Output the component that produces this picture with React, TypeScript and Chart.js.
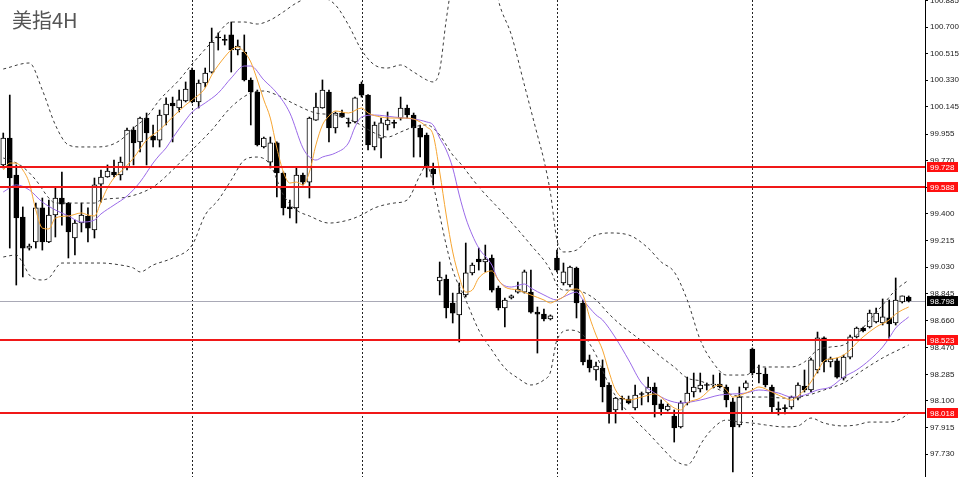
import React, { useEffect, useRef } from 'react';
import { Chart, registerables } from 'chart.js';

Chart.register(...registerables);

const TITLE = '美指4H';
const SLOTS = 142; // candle slots incl. empty right margin
const Y_MIN = 97.571;
const Y_MAX = 100.888;

const opens = [
  99.741, 99.928, 99.671, 99.379, 99.163, 99.205, 99.442, 99.205, 99.393, 99.511,
  99.476, 99.233, 99.337, 99.386, 99.289, 99.608, 99.657, 99.692, 99.671, 99.720,
  99.984, 99.901, 100.067, 99.942, 99.914, 100.088, 100.172, 100.137, 100.186, 100.401,
  100.179, 100.311, 100.387, 100.631, 100.610, 100.645, 100.540, 100.526, 100.332, 100.248,
  99.866, 99.761, 99.894, 99.685, 99.450, 99.442, 99.671, 99.622, 100.053, 100.137,
  100.248, 99.998, 100.102, 100.033, 100.040, 100.304, 100.227, 99.866, 99.928, 100.019,
  100.033, 100.067, 100.137, 100.088, 99.998, 99.949, 99.713, 98.934, 98.948, 98.781,
  98.698, 98.837, 98.990, 99.087, 99.066, 99.094, 98.885, 98.746, 98.816, 98.857,
  98.857, 98.857, 98.718, 98.704, 98.670, 99.094, 98.920, 98.906, 99.024, 98.781,
  98.385, 98.315, 98.329, 98.211, 98.037, 98.120, 98.113, 98.051, 98.148, 98.155,
  98.197, 98.079, 98.037, 97.995, 97.919, 98.086, 98.162, 98.183, 98.211, 98.211,
  98.218, 98.197, 98.093, 97.933, 98.190, 98.461, 98.294, 98.287, 98.197, 98.044,
  98.051, 98.058, 98.120, 98.204, 98.176, 98.315, 98.538, 98.371, 98.378, 98.259,
  98.405, 98.545, 98.607, 98.614, 98.649, 98.642, 98.677, 98.642, 98.788, 98.823,
];
const highs = [
  99.963, 100.227, 99.741, 99.449, 99.191, 99.476, 99.511, 99.497, 99.588, 99.692,
  99.480, 99.358, 99.476, 99.442, 99.650, 99.706, 99.741, 99.775, 99.796, 99.998,
  100.005, 100.074, 100.102, 100.019, 100.123, 100.207, 100.213, 100.262, 100.318, 100.415,
  100.332, 100.415, 100.693, 100.659, 100.645, 100.735, 100.610, 100.645, 100.346, 100.262,
  99.935, 99.935, 99.901, 99.692, 99.497, 99.720, 99.685, 100.074, 100.241, 100.332,
  100.262, 100.109, 100.123, 100.067, 100.213, 100.318, 100.230, 100.040, 100.067, 100.109,
  100.053, 100.213, 100.158, 100.102, 100.019, 99.963, 99.754, 99.066, 98.976, 98.850,
  98.920, 99.198, 99.059, 99.163, 99.184, 99.115, 98.899, 98.816, 98.837, 98.927,
  99.010, 99.010, 98.753, 98.739, 98.698, 99.149, 99.059, 99.038, 99.031, 98.802,
  98.419, 98.371, 98.385, 98.225, 98.125, 98.134, 98.134, 98.211, 98.162, 98.266,
  98.225, 98.107, 98.079, 98.037, 98.100, 98.266, 98.294, 98.294, 98.225, 98.280,
  98.294, 98.211, 98.120, 98.197, 98.239, 98.468, 98.350, 98.329, 98.211, 98.093,
  98.072, 98.134, 98.225, 98.315, 98.398, 98.579, 98.545, 98.405, 98.398, 98.419,
  98.558, 98.614, 98.614, 98.732, 98.746, 98.809, 98.802, 98.955, 98.830, 98.830,
];
const lows = [
  99.720, 99.163, 98.906, 98.962, 99.149, 99.163, 99.149, 99.200, 99.240, 99.323,
  99.094, 99.115, 99.275, 99.205, 99.233, 99.483, 99.655, 99.657, 99.636, 99.706,
  99.741, 99.831, 99.741, 99.866, 99.866, 100.019, 99.901, 100.109, 100.179, 100.172,
  100.137, 100.283, 100.380, 100.540, 100.575, 100.387, 100.506, 100.325, 100.019, 99.873,
  99.859, 99.720, 99.518, 99.393, 99.372, 99.337, 99.602, 99.511, 100.050, 100.135,
  99.901, 99.963, 100.072, 100.005, 100.033, 100.213, 99.845, 99.845, 99.789, 99.984,
  99.998, 100.053, 100.067, 99.796, 99.796, 99.657, 99.602, 98.837, 98.677, 98.642,
  98.510, 98.823, 98.976, 99.010, 98.997, 98.857, 98.732, 98.614, 98.809, 98.850,
  98.850, 98.711, 98.433, 98.656, 98.663, 98.997, 98.906, 98.892, 98.677, 98.350,
  98.301, 98.245, 98.093, 97.946, 97.946, 98.037, 98.079, 98.037, 98.072, 98.093,
  97.988, 98.002, 98.030, 97.814, 97.912, 98.072, 98.127, 98.162, 98.176, 98.190,
  98.190, 98.058, 97.606, 97.919, 98.176, 98.280, 98.225, 98.197, 98.016, 98.002,
  98.009, 98.044, 98.107, 98.162, 98.162, 98.294, 98.301, 98.336, 98.259, 98.245,
  98.392, 98.538, 98.579, 98.607, 98.642, 98.628, 98.538, 98.628, 98.781, 98.788,
];
const closes = [
  99.928, 99.650, 99.372, 99.163, 99.177, 99.442, 99.205, 99.393, 99.511, 99.469,
  99.275, 99.337, 99.393, 99.302, 99.602, 99.657, 99.699, 99.671, 99.761, 99.984,
  99.894, 100.067, 99.963, 99.914, 100.088, 100.165, 100.151, 100.193, 100.269, 100.179,
  100.311, 100.380, 100.596, 100.624, 100.607, 100.540, 100.568, 100.332, 100.248, 99.880,
  99.928, 99.894, 99.685, 99.442, 99.436, 99.671, 99.622, 100.067, 100.144, 100.262,
  99.998, 100.102, 100.074, 100.030, 100.207, 100.227, 99.880, 100.019, 100.033, 100.053,
  100.030, 100.137, 100.088, 99.998, 99.935, 99.720, 99.678, 98.962, 98.746, 98.711,
  98.850, 98.990, 99.045, 99.066, 99.087, 98.871, 98.746, 98.802, 98.830, 98.878,
  98.997, 98.718, 98.704, 98.670, 98.691, 99.010, 98.997, 99.030, 98.781, 98.371,
  98.329, 98.343, 98.197, 98.023, 98.120, 98.113, 98.086, 98.141, 98.145, 98.197,
  98.072, 98.044, 98.065, 97.912, 98.086, 98.155, 98.197, 98.211, 98.207, 98.214,
  98.197, 98.107, 97.919, 98.127, 98.225, 98.294, 98.287, 98.211, 98.058, 98.040,
  98.047, 98.127, 98.211, 98.176, 98.385, 98.538, 98.371, 98.392, 98.266, 98.405,
  98.545, 98.607, 98.586, 98.711, 98.711, 98.684, 98.635, 98.802, 98.830, 98.798,
];

// [candle index, value]
const maFast: [number, number][] = [
  [0, 99.706], [1, 99.754], [2, 99.754], [3, 99.706], [4, 99.615], [5, 99.428], [6, 99.302], [7, 99.296],
  [8, 99.372], [10, 99.386], [12, 99.407], [13, 99.393], [14, 99.386], [15, 99.483], [16, 99.581],
  [17, 99.650], [18, 99.692], [20, 99.789], [22, 99.914], [24, 99.984], [26, 100.074], [28, 100.158],
  [29, 100.193], [31, 100.276], [32, 100.366], [34, 100.492], [35, 100.540], [36, 100.561], [37, 100.526],
  [38, 100.457], [39, 100.332], [40, 100.193], [41, 100.067], [42, 99.859], [43, 99.692], [44, 99.615],
  [45, 99.622], [46, 99.602], [47, 99.692], [48, 99.880], [49, 100.019], [50, 100.081], [51, 100.116],
  [53, 100.102], [55, 100.137], [56, 100.102], [58, 100.074], [60, 100.067], [62, 100.067], [64, 100.040],
  [65, 100.005], [66, 99.949], [67, 99.692], [68, 99.393], [69, 99.136], [70, 98.962], [71, 98.857],
  [72, 98.871], [73, 98.955], [75, 99.004], [76, 98.941], [77, 98.892], [79, 98.871], [81, 98.837],
  [83, 98.802], [84, 98.781], [85, 98.802], [86, 98.823], [87, 98.871], [88, 98.878], [89, 98.837],
  [90, 98.684], [91, 98.558], [92, 98.454], [93, 98.301], [94, 98.176], [96, 98.106], [98, 98.127],
  [100, 98.148], [102, 98.086], [103, 98.051], [104, 98.037], [105, 98.086], [107, 98.120], [109, 98.197],
  [110, 98.211], [111, 98.176], [112, 98.127], [114, 98.155], [115, 98.176], [116, 98.197], [118, 98.162],
  [120, 98.120], [121, 98.106], [122, 98.134], [123, 98.176], [124, 98.232], [125, 98.308], [126, 98.378],
  [127, 98.392], [128, 98.399], [129, 98.419], [130, 98.454], [131, 98.503], [132, 98.545], [134, 98.614],
  [136, 98.663], [137, 98.704], [138, 98.732], [139, 98.753],
];
const maSlow: [number, number][] = [
  [0, 99.553], [2, 99.602], [4, 99.567], [6, 99.483], [8, 99.428], [10, 99.386], [12, 99.344], [14, 99.358],
  [15, 99.400], [17, 99.462], [19, 99.525], [21, 99.622], [23, 99.754], [24, 99.810], [25, 99.859],
  [26, 99.928], [28, 100.053], [29, 100.109], [31, 100.172], [33, 100.241], [35, 100.346], [37, 100.429],
  [38, 100.429], [40, 100.332], [42, 100.241], [44, 100.102], [46, 99.859], [47, 99.796], [48, 99.775],
  [49, 99.796], [51, 99.824], [53, 99.894], [54, 100.005], [55, 100.074], [57, 100.088], [60, 100.074],
  [63, 100.060], [65, 100.040], [66, 100.019], [67, 99.928], [68, 99.845], [69, 99.720], [70, 99.532],
  [71, 99.372], [72, 99.254], [73, 99.163], [75, 99.045], [76, 98.941], [78, 98.892], [80, 98.913],
  [81, 98.885], [83, 98.837], [85, 98.802], [86, 98.823], [88, 98.857], [89, 98.802], [91, 98.698],
  [92, 98.663], [94, 98.538], [96, 98.385], [98, 98.225], [100, 98.155], [102, 98.106], [104, 98.086],
  [107, 98.106], [110, 98.141], [114, 98.155], [116, 98.176], [119, 98.155], [121, 98.127], [123, 98.141],
  [125, 98.176], [127, 98.197], [129, 98.266], [131, 98.315], [133, 98.385], [135, 98.475], [136, 98.538],
  [137, 98.607], [139, 98.684],
];
const bandUpper: [number, number][] = [
  [0, 100.408], [4, 100.450], [6, 100.262], [8, 100.019], [10, 99.880], [12, 99.866], [14, 99.866],
  [16, 99.873], [18, 99.914], [20, 99.998], [22, 100.074], [24, 100.193], [27, 100.332], [29, 100.443],
  [32, 100.596], [35, 100.735], [37, 100.735], [39, 100.721], [41, 100.749], [43, 100.805], [45, 100.867],
  [47, 100.902], [49, 100.902], [51, 100.853], [53, 100.714], [55, 100.540], [57, 100.436], [59, 100.415],
  [61, 100.436], [63, 100.387], [65, 100.332], [66, 100.318], [67, 100.401], [68, 100.749], [69, 101.027],
  [71, 101.236], [73, 101.340], [75, 101.131], [76, 100.888], [78, 100.645], [80, 100.297], [82, 99.949],
  [83, 99.775], [84, 99.546], [85, 99.219], [86, 99.136], [88, 99.149], [90, 99.233], [93, 99.268],
  [96, 99.254], [99, 99.163], [101, 99.066], [103, 98.997], [105, 98.802], [107, 98.524], [109, 98.364],
  [111, 98.280], [114, 98.280], [116, 98.336], [121, 98.336], [123, 98.371], [125, 98.454], [127, 98.475],
  [129, 98.489], [131, 98.558], [133, 98.663], [135, 98.767], [137, 98.871], [139, 98.941],
];
const bandMiddle: [number, number][] = [
  [0, 99.789], [1, 99.775], [3, 99.727], [5, 99.636], [7, 99.511], [8, 99.476], [10, 99.476], [12, 99.476],
  [14, 99.476], [15, 99.497], [19, 99.518], [23, 99.588], [26, 99.706], [29, 99.845], [32, 99.984],
  [35, 100.144], [38, 100.241], [40, 100.255], [42, 100.227], [45, 100.158], [48, 100.102], [51, 100.088],
  [54, 100.040], [57, 99.963], [59, 99.935], [61, 99.970], [63, 100.005], [65, 100.019], [66, 99.998],
  [67, 99.949], [68, 99.880], [69, 99.810], [70, 99.761], [73, 99.588], [77, 99.393], [81, 99.184],
  [84, 99.010], [85, 98.906], [86, 98.871], [88, 98.871], [89, 98.857], [91, 98.802], [93, 98.704],
  [95, 98.621], [97, 98.552], [99, 98.482], [101, 98.405], [103, 98.336], [105, 98.259], [107, 98.239],
  [110, 98.176], [112, 98.141], [114, 98.127], [117, 98.127], [120, 98.120], [123, 98.134], [126, 98.176],
  [129, 98.225], [132, 98.315], [135, 98.399], [139, 98.489],
];
const bandLower: [number, number][] = [
  [0, 99.101], [2, 99.115], [3, 99.059], [4, 98.976], [6, 98.941], [7, 98.955], [9, 99.059], [12, 99.059],
  [15, 99.059], [18, 99.045], [20, 99.024], [21, 98.997], [23, 99.045], [26, 99.094], [29, 99.184],
  [31, 99.393], [33, 99.497], [35, 99.636], [37, 99.775], [39, 99.796], [41, 99.741], [43, 99.532],
  [45, 99.428], [47, 99.386], [50, 99.337], [53, 99.358], [55, 99.393], [57, 99.442], [60, 99.476],
  [62, 99.497], [64, 99.671], [65, 99.741], [66, 99.602], [67, 99.393], [68, 99.184], [69, 99.010],
  [71, 98.802], [73, 98.593], [75, 98.454], [77, 98.329], [79, 98.259], [81, 98.211], [83, 98.246],
  [84, 98.301], [85, 98.524], [87, 98.593], [89, 98.558], [91, 98.419], [93, 98.211], [95, 98.072],
  [97, 97.967], [99, 97.877], [101, 97.780], [103, 97.689], [105, 97.654], [106, 97.703], [107, 97.794],
  [109, 97.912], [111, 97.967], [113, 97.953], [115, 97.946], [117, 97.933], [120, 97.919], [122, 97.926],
  [124, 97.981], [126, 97.946], [129, 97.926], [131, 97.933], [133, 97.953], [136, 97.953], [138, 97.981],
  [139, 98.016],
];

const redLevels = [99.728, 99.588, 98.523, 98.018];
const lastPrice = 98.798;
const separators = [29, 55, 85, 115];
const yTicks = [
  100.885, 100.7, 100.515, 100.33, 100.145, 99.955, 99.77, 99.585, 99.4, 99.215,
  99.03, 98.845, 98.66, 98.47, 98.285, 98.1, 97.915, 97.73,
];

const AXIS_FONT = '8px "Liberation Sans", Arial, sans-serif';

const overlay = {
  id: 'overlay',
  beforeDatasetsDraw(chart: any) {
    const { ctx, chartArea: ca, scales } = chart;
    const xs = scales.x;
    const ys = scales.y;
    ctx.save();
    ctx.lineWidth = 1;
    ctx.strokeStyle = '#222';
    ctx.setLineDash([2, 2]);
    separators.forEach((i) => {
      const px = Math.round(xs.getPixelForValue(i)) + 0.5;
      ctx.beginPath();
      ctx.moveTo(px, ca.top);
      ctx.lineTo(px, ca.bottom);
      ctx.stroke();
    });
    ctx.setLineDash([]);
    ctx.strokeStyle = '#a9a9b6';
    const py = Math.round(ys.getPixelForValue(lastPrice)) + 0.5;
    ctx.beginPath();
    ctx.moveTo(ca.left, py);
    ctx.lineTo(ca.right, py);
    ctx.stroke();
    ctx.restore();
  },
  afterDatasetsDraw(chart: any) {
    const { ctx, chartArea: ca, scales } = chart;
    const ys = scales.y;
    ctx.save();
    ctx.strokeStyle = '#f01818';
    ctx.lineWidth = 2;
    redLevels.forEach((v) => {
      const py = Math.round(ys.getPixelForValue(v));
      ctx.beginPath();
      ctx.moveTo(ca.left, py);
      ctx.lineTo(ca.right, py);
      ctx.stroke();
    });
    ctx.restore();
  },
  afterDraw(chart: any) {
    const { ctx, chartArea: ca, scales } = chart;
    const ys = scales.y;
    ctx.save();
    ctx.font = AXIS_FONT;
    ctx.textBaseline = 'middle';
    ctx.textAlign = 'left';
    const box = (v: number, fill: string) => {
      const py = Math.round(ys.getPixelForValue(v));
      ctx.fillStyle = fill;
      ctx.fillRect(ca.right + 2, py - 5, 31, 10);
      ctx.fillStyle = '#fff';
      ctx.fillText(v.toFixed(3), ca.right + 5, py + 0.5);
    };
    redLevels.forEach((v) => box(v, '#ff1010'));
    box(lastPrice, '#000');
    ctx.restore();
  },
};

export default function App() {
  const ref = useRef<HTMLCanvasElement | null>(null);

  useEffect(() => {
    if (!ref.current) return;
    const labels = Array.from({ length: SLOTS }, (_, i) => String(i));
    const bodyColors = opens.map((o, i) => (closes[i] >= o ? '#ffffff' : '#000000'));
    const toXY = (arr: [number, number][]) => arr.map(([x, y]) => ({ x, y }));
    const lineDs = (label: string, data: [number, number][], color: string, dash: number[] = []) => ({
      type: 'line' as const,
      label,
      xAxisID: 'x2',
      data: toXY(data),
      borderColor: color,
      borderWidth: 1,
      borderDash: dash,
      pointRadius: 0,
      fill: false,
      cubicInterpolationMode: 'monotone' as const,
    });

    const chart = new Chart(ref.current, {
      type: 'bar',
      data: {
        labels,
        datasets: [
          lineDs('MA fast', maFast, '#f6a532'),
          lineDs('MA slow', maSlow, '#9a6ae8'),
          lineDs('BB upper', bandUpper, '#3a3a3a', [3, 3]),
          lineDs('BB middle', bandMiddle, '#3a3a3a', [3, 3]),
          lineDs('BB lower', bandLower, '#3a3a3a', [3, 3]),
          {
            type: 'bar',
            label: 'body',
            xAxisID: 'x',
            data: opens.map((o, i) => [o, closes[i]]),
            backgroundColor: bodyColors,
            borderColor: '#000',
            borderWidth: 1,
            borderSkipped: false,
            barThickness: 5,
            minBarLength: 1,
            grouped: false,
          } as any,
          {
            type: 'bar',
            label: 'wick',
            xAxisID: 'x',
            data: lows.map((l, i) => [l, highs[i]]),
            backgroundColor: '#000',
            borderWidth: 0,
            barThickness: 1,
            grouped: false,
          } as any,
        ],
      },
      options: {
        animation: false,
        responsive: true,
        maintainAspectRatio: false,
        events: [],
        layout: { padding: 0 },
        plugins: { legend: { display: false }, tooltip: { enabled: false }, title: { display: false } },
        scales: {
          x: { type: 'category', display: false, offset: true },
          x2: { type: 'linear', display: false, offset: false, bounds: 'ticks', min: -0.5, max: SLOTS - 0.5, grid: { offset: false } },
          y: {
            position: 'right',
            min: Y_MIN,
            max: Y_MAX,
            afterBuildTicks: (s: any) => {
              s.ticks = yTicks.map((v) => ({ value: v }));
            },
            afterFit: (s: any) => {
              s.width = 35;
              s.paddingTop = 0;
              s.paddingBottom = 0;
            },
            ticks: {
              autoSkip: false,
              padding: 2,
              color: '#1a1a1a',
              font: { family: '"Liberation Sans", Arial, sans-serif', size: 8 },
              callback: (v: any) => Number(v).toFixed(3),
            },
            grid: { display: true, drawOnChartArea: false, drawTicks: true, tickLength: 3, color: '#000' },
            border: { display: true, color: '#000', width: 1 },
          },
        },
      },
      plugins: [overlay],
    });
    return () => chart.destroy();
  }, []);

  return (
    <div style={{ position: 'fixed', left: 0, top: 0, width: 960, height: 477, background: '#fff' }}>
      <canvas ref={ref} />
      <div
        style={{
          position: 'absolute',
          left: 12,
          top: 9,
          fontFamily: '"Noto Sans CJK SC", "Noto Sans", sans-serif',
          fontSize: 20,
          lineHeight: '22px',
          color: '#555',
        }}
      >
        {TITLE}
      </div>
    </div>
  );
}
